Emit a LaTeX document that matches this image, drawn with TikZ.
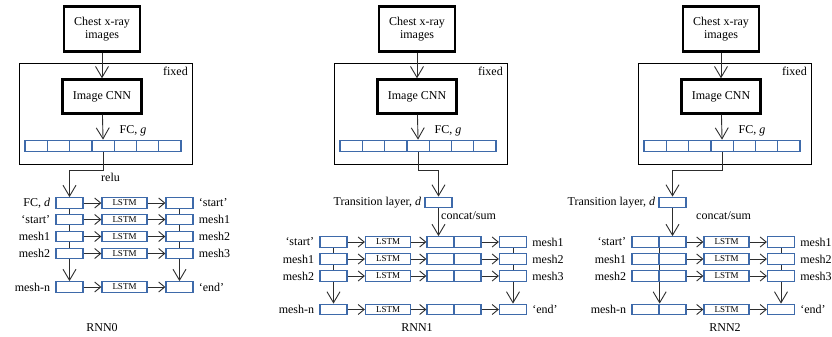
\documentclass[tikz,border=0pt]{standalone}
\usepackage{fontspec}
\setmainfont{Liberation Serif}
\usetikzlibrary{arrows.meta}
\definecolor{cellblue}{RGB}{62,106,170}
\definecolor{wiregray}{RGB}{45,45,45}
\tikzset{
  imgbox/.style={draw, line width=2.4pt, minimum width=76pt, minimum height=45pt, align=center, inner sep=1pt, font=\fontsize{12}{13.5}\selectfont},
  cnnbox/.style={imgbox, minimum width=79pt, minimum height=34pt},
  cell/.style={draw=cellblue, line width=1.3pt, fill=white, minimum width=27pt, minimum height=10.5pt, inner sep=0pt},
  fccell/.style={cell, minimum width=22.3pt, minimum height=11.5pt},
  lstm/.style={cell, minimum width=45pt, font=\fontsize{9}{9}\selectfont},
  txt/.style={inner sep=0pt, font=\fontsize{12}{13}\selectfont},
  wire/.style={draw=wiregray, line width=0.9pt},
  arr/.style={wire, -{Straight Barb[length=6pt, width=10pt]}},
  bigarr/.style={wire, -{Straight Barb[length=11pt, width=13pt]}},
}
% #1 name, #2 left edge of the fixed frame
\newcommand{\toppart}[2]{
  \draw[line width=1pt] (#2,64) rectangle (#2+173,164);
  \node[txt, anchor=north east] (fx#1) at (#2+169,67) {fixed};
  \node[imgbox] (x#1) at (#2+83,29) {Chest x-ray\\images};
  \node[cnnbox] (c#1) at (#2+83,96.5) {Image CNN};
  \foreach \i in {1,...,7}
    \node[fccell] (f#1-\i) at (#2+6+\i*22.3-11.15,146) {};
  \node[txt] (g#1) at (#2+114,131) {FC, \textit{g}};
  \draw[bigarr] (x#1) -- (c#1);
  \draw[bigarr] (c#1) -- (f#1-4.north);
}
% #1 row, #2 y, #3 left label, #4 right label
\newcommand{\rowzero}[4]{
  \node[cell] (a0-#1) at (69.5,#2) {};
  \node[lstm] (m0-#1) at (124.5,#2) {LSTM};
  \node[cell] (b0-#1) at (179.5,#2) {};
  \node[txt, anchor=east] (p0-#1) at ([xshift=-5pt]a0-#1.west) {#3};
  \node[txt, anchor=west] (q0-#1) at ([xshift=5pt]b0-#1.east) {#4};
  \draw[arr] (a0-#1) -- (m0-#1);
  \draw[arr] (m0-#1) -- (b0-#1);
}
\newcommand{\rowone}[4]{
  \node[cell] (a1-#1) at (333.5,#2) {};
  \node[lstm] (m1-#1) at (388,#2) {LSTM};
  \node[cell] (e1a-#1) at (440.5,#2) {};
  \node[cell] (e1b-#1) at (467.5,#2) {};
  \node[cell] (b1-#1) at (513,#2) {};
  \node[txt, anchor=east] (p1-#1) at ([xshift=-5pt]a1-#1.west) {#3};
  \node[txt, anchor=west] (q1-#1) at ([xshift=5pt]b1-#1.east) {#4};
  \draw[arr] (a1-#1) -- (m1-#1);
  \draw[arr] (m1-#1) -- (e1a-#1);
  \draw[arr] (e1b-#1) -- (b1-#1);
}
\newcommand{\rowtwo}[4]{
  \node[cell] (e2a-#1) at (645.5,#2) {};
  \node[cell] (e2b-#1) at (672.5,#2) {};
  \node[lstm] (m2-#1) at (726.5,#2) {LSTM};
  \node[cell] (b2-#1) at (781,#2) {};
  \node[txt, anchor=east] (p2-#1) at ([xshift=-5pt]e2a-#1.west) {#3};
  \node[txt, anchor=west] (q2-#1) at ([xshift=5pt]b2-#1.east) {#4};
  \draw[arr] (e2b-#1) -- (m2-#1);
  \draw[arr] (m2-#1) -- (b2-#1);
}

\begin{document}
\begin{tikzpicture}[x=1pt, y=-1pt]
  \useasboundingbox (0,0) rectangle (832,337);

  % RNN0
  \toppart{0}{19}
  \rowzero{1}{203}{FC, \textit{d}}{`start'}
  \rowzero{2}{219.5}{`start'}{mesh1}
  \rowzero{3}{236.5}{mesh1}{mesh2}
  \rowzero{4}{253.5}{mesh2}{mesh3}
  \rowzero{5}{287}{mesh-n}{`end'}
  \coordinate (k0) at (69.5,170);
  \draw[bigarr] (f0-4.south) |- (k0) -- (a0-1.north);
  \node[txt, anchor=west] (relu) at (101,177) {relu};
  \foreach \c in {a0,b0} {
    \foreach \r/\s in {1/2,2/3,3/4}
      \draw[wire] (\c-\r.south) -- (\c-\s.north);
    \draw[bigarr] (\c-4.south) -- (\c-5.north);
  }
  \node[txt] (r0) at (102,328) {RNN0};

  % RNN1
  \toppart{1}{334}
  \node[cell] (t1) at (438.5,202.5) {};
  \node[txt, anchor=east] (tl1) at ([xshift=-3pt]t1.west) {Transition layer, \textit{d}};
  \rowone{1}{242}{`start'}{mesh1}
  \rowone{2}{259}{mesh1}{mesh2}
  \rowone{3}{276}{mesh2}{mesh3}
  \rowone{4}{309.5}{mesh-n}{`end'}
  \coordinate (k1) at (438.5,170);
  \draw[bigarr] (f1-4.south) |- (k1) -- (t1.north);
  \draw[bigarr] (t1.south) -- (t1.south |- e1a-1.north);
  \node[txt, anchor=west] (cs1) at (441,216) {concat/sum};
  \foreach \c in {a1,b1} {
    \foreach \r/\s in {1/2,2/3}
      \draw[wire] (\c-\r.south) -- (\c-\s.north);
    \draw[bigarr] (\c-3.south) -- (\c-4.north);
  }
  \node[txt] (r1) at (417,328) {RNN1};

  % RNN2
  \toppart{2}{638}
  \node[cell] (t2) at (672.5,202.5) {};
  \node[txt, anchor=east] (tl2) at ([xshift=-3pt]t2.west) {Transition layer, \textit{d}};
  \rowtwo{1}{242}{`start'}{mesh1}
  \rowtwo{2}{259}{mesh1}{mesh2}
  \rowtwo{3}{276}{mesh2}{mesh3}
  \rowtwo{4}{309.5}{mesh-n}{`end'}
  \coordinate (k2) at (672.5,170);
  \draw[bigarr] (f2-4.south) |- (k2) -- (t2.north);
  \draw[bigarr] (t2.south) -- (e2b-1.north);
  \node[txt, anchor=west] (cs2) at (696,216) {concat/sum};
  % shared column runs along the split of the concat cells
  \foreach \r/\s in {1/2,2/3}
    \draw[wire] (e2a-\r.south east) -- (e2a-\s.north east);
  \draw[bigarr] (e2a-3.south east) -- (e2a-4.north east);
  \foreach \r/\s in {1/2,2/3}
    \draw[wire] (b2-\r.south) -- (b2-\s.north);
  \draw[bigarr] (b2-3.south) -- (b2-4.north);
  \node[txt] (r2) at (725,328) {RNN2};
\end{tikzpicture}
\end{document}
